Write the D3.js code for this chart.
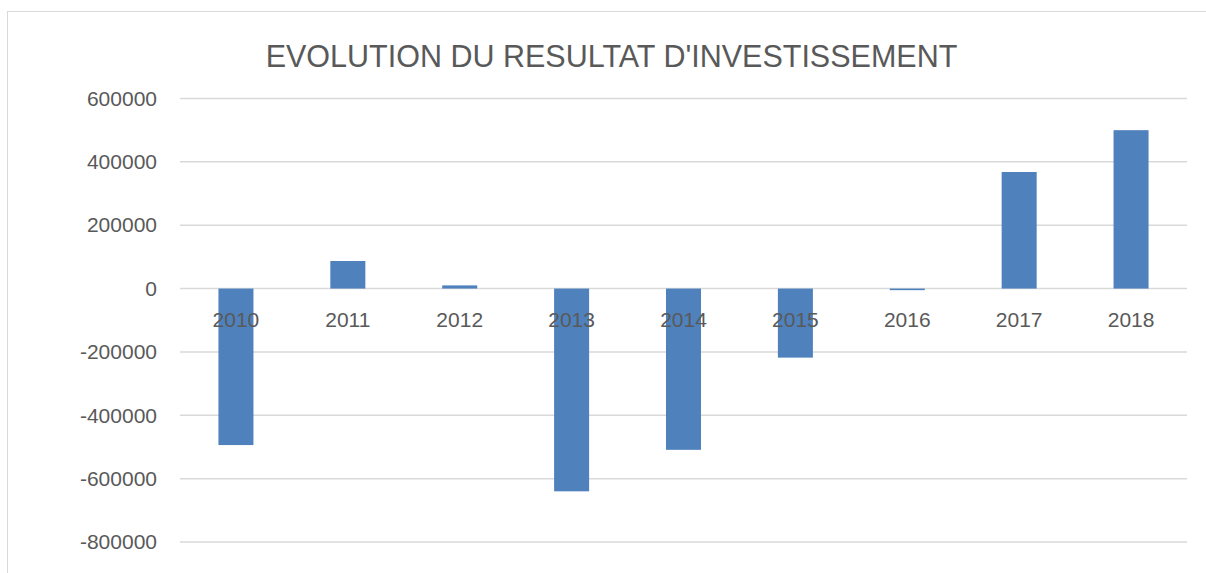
<!DOCTYPE html>
<html>
<head>
<meta charset="utf-8">
<script src="https://cdn.jsdelivr.net/npm/d3@7/dist/d3.min.js"></script>
<style>
	body { margin: 0; background: #fff; }
	text { font-family: 'Liberation Sans', Arial, sans-serif; fill: #595959; }
</style>
</head>
<body>
<svg></svg>
<script>
// Chart data - resultat d'investissement per year
const years = ['2010', '2011', '2012', '2013', '2014', '2015', '2016', '2017', '2018'];
const resultats = [-494000, 87000, 10000, -640000, -509000, -218000, -5000, 368000, 500000];
const yTicks = [-800000, -600000, -400000, -200000, 0, 200000, 400000, 600000];
const chartTitle = "EVOLUTION DU RESULTAT D'INVESTISSEMENT";

const width = 1206;
const height = 573;
const margin = { top: 98.5, right: 19, bottom: 31, left: 180 };

const svg = d3.select('svg')
	.attr('width', width)
	.attr('height', height);

// chart frame (only left + top visible in the screenshot)
svg.append('rect')
	.attr('x', 7.5)
	.attr('y', 11.5)
	.attr('width', 1220)
	.attr('height', 600)
	.attr('fill', 'none')
	.attr('stroke', '#d9d9d9')
	.attr('stroke-width', 1);

const x = d3.scaleBand()
	.domain(years)
	.range([margin.left, width - margin.right])
	.paddingInner(0.687)
	.paddingOuter(0.3435);

const y = d3.scaleLinear()
	.domain([-800000, 600000])
	.range([height - margin.bottom, margin.top]);

// gridlines
svg.append('g')
	.selectAll('line')
	.data(yTicks)
	.join('line')
	.attr('x1', margin.left)
	.attr('x2', width - margin.right)
	.attr('y1', (d) => y(d))
	.attr('y2', (d) => y(d))
	.attr('stroke', '#d9d9d9')
	.attr('stroke-width', 1.5);

// y axis labels (plain hyphen for negatives, like Excel)
const yAxis = svg.append('g')
	.attr('transform', `translate(${margin.left - 23},0)`)
	.call(d3.axisLeft(y).tickValues(yTicks).tickSize(0).tickPadding(0).tickFormat((d) => String(d)));
yAxis.select('.domain').remove();
yAxis.selectAll('text')
	.attr('fill', '#595959')
	.style('font-size', '21px');

// bars
svg.append('g')
	.selectAll('rect')
	.data(resultats)
	.join('rect')
	.attr('x', (d, i) => x(years[i]))
	.attr('width', x.bandwidth())
	.attr('y', (d) => y(Math.max(0, d)))
	.attr('height', (d) => Math.abs(y(d) - y(0)))
	.attr('fill', '#4f81bd');

// category labels, drawn over the bars
const xAxis = svg.append('g')
	.attr('transform', `translate(0,${y(0)})`)
	.call(d3.axisBottom(x).tickSize(0).tickPadding(24));
xAxis.select('.domain').remove();
xAxis.selectAll('text')
	.attr('fill', '#595959')
	.style('font-size', '21px');

// title
svg.append('text')
	.attr('x', 611.5)
	.attr('y', 67)
	.attr('text-anchor', 'middle')
	.style('font-size', '30.5px')
	.text(chartTitle);
</script>
</body>
</html>
